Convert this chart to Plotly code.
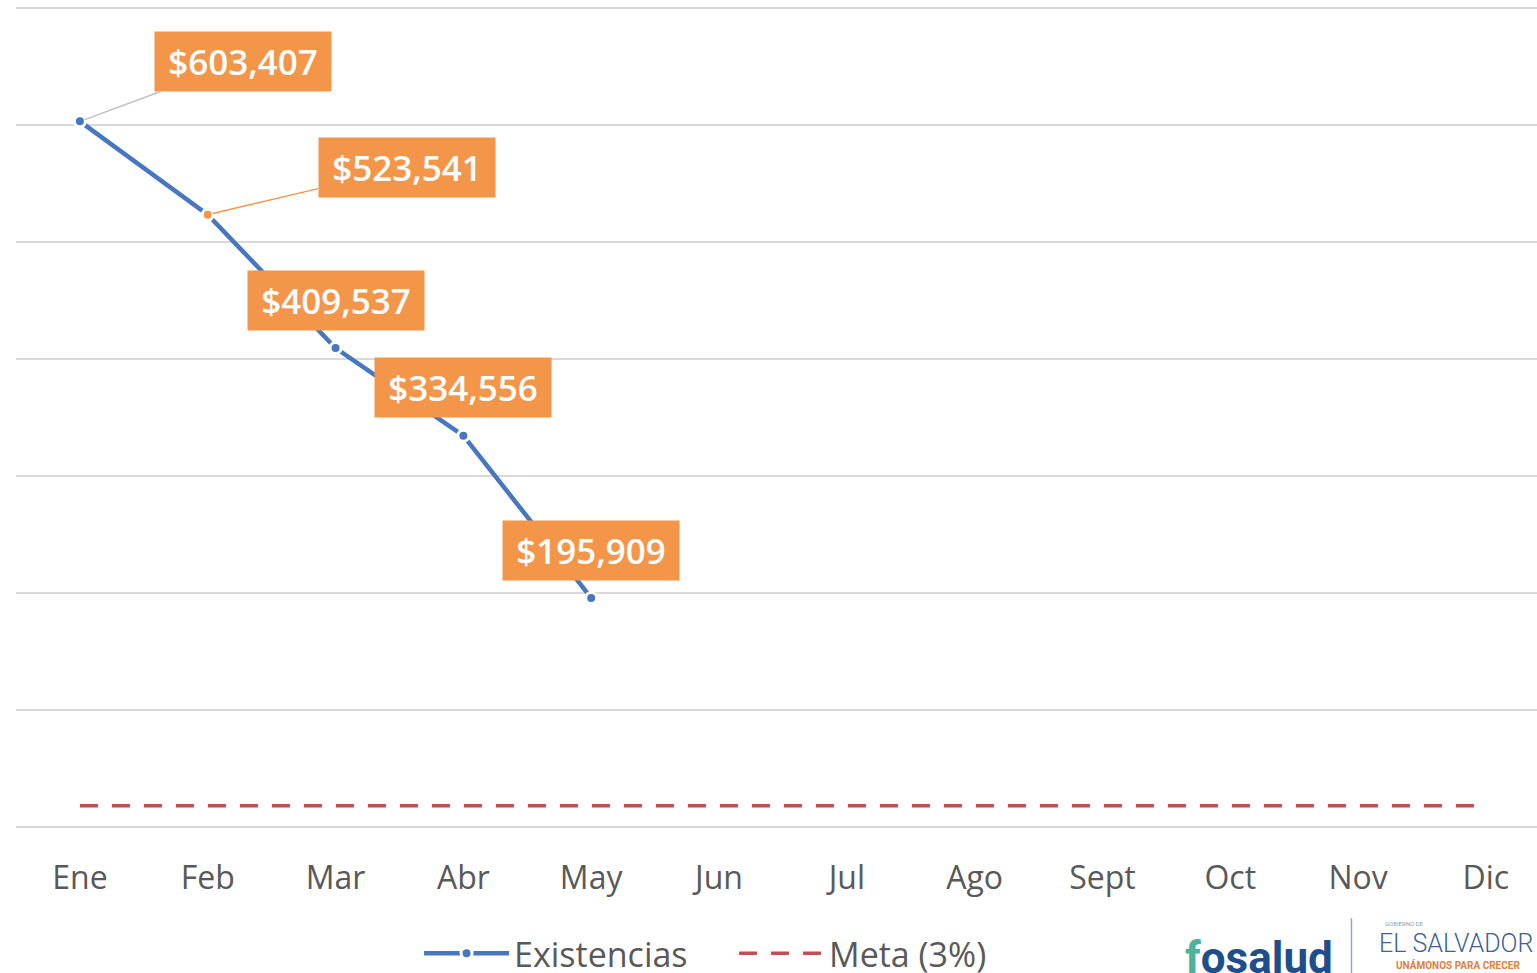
import plotly.graph_objects as go

# data
meses = ["Ene", "Feb", "Mar", "Abr", "May", "Jun", "Jul", "Ago", "Sept", "Oct", "Nov", "Dic"]
existencias = [603407, 523541, 409537, 334556, 195909]
meta = [18102] * 12
etiquetas = ["$603,407", "$523,541", "$409,537", "$334,556", "$195,909"]

azul = "#4677C0"
naranja = "#F4964A"
rojo = "#C0504D"
gris = "#595959"

marker_colors = [azul, naranja, azul, azul, azul]

fig = go.Figure()

fig.add_trace(go.Scatter(
    x=meses[:len(existencias)],
    y=existencias,
    mode="lines+markers",
    name="Existencias",
    line=dict(color=azul, width=4.5),
    marker=dict(color=marker_colors, size=11, line=dict(color="white", width=3)),
))

fig.add_trace(go.Scatter(
    x=meses,
    y=meta,
    mode="lines",
    name="Meta (3%)",
    line=dict(color=rojo, width=3.5, dash="18px,14px"),
))

# data labels (offsets in px)
offsets = [(163, -60, True, "#BFBFBF"), (199, -47, True, naranja),
           (0, -48, False, None), (0, -48, False, None), (0, -47, False, None)]
for m, v, t, (ax, ay, arrow, acol) in zip(meses, existencias, etiquetas, offsets):
    ann = dict(
        x=m, y=v, xref="x", yref="y", text=t,
        font=dict(family="Open Sans, sans-serif", size=35, color="white", weight=600),
        bgcolor=naranja, width=164, height=47, borderpad=6,
        showarrow=True, ax=ax, ay=ay,
    )
    if arrow:
        ann.update(arrowhead=0, arrowwidth=1.5, arrowcolor=acol, standoff=5)
    else:
        ann.update(arrowwidth=0.1, arrowcolor="rgba(0,0,0,0)")
    fig.add_annotation(**ann)

# logos (text approximation)
fig.add_annotation(xref="paper", yref="paper", x=0.817, y=-0.160, xanchor="center", yanchor="middle",
                   text="<b><span style='color:#4DB39A'>f</span>osalud</b>", showarrow=False,
                   font=dict(family="Roboto, sans-serif", size=44, color="#1F4E8C"))
fig.add_annotation(xref="paper", yref="paper", x=0.9126, y=-0.117, xanchor="center", yanchor="middle",
                   text="GOBIERNO DE", showarrow=False,
                   font=dict(family="Roboto, sans-serif", size=6, color="#8C9FB5"))
fig.add_annotation(xref="paper", yref="paper", x=0.947, y=-0.142, xanchor="center", yanchor="middle",
                   text="EL SALVADOR", showarrow=False,
                   font=dict(family="Roboto, sans-serif", size=25, color="#3C6296", weight=300))
fig.add_annotation(xref="paper", yref="paper", x=0.948, y=-0.168, xanchor="center", yanchor="middle",
                   text="<b>UNÁMONOS PARA CRECER</b>", showarrow=False,
                   font=dict(family="Roboto, sans-serif", size=10, color="#E0803C"))
fig.add_shape(type="line", xref="paper", yref="paper", x0=0.878, x1=0.878, y0=-0.111, y1=-0.19,
              line=dict(color="#9AA8B8", width=1.5))

fig.update_layout(
    width=1537, height=973,
    margin=dict(l=16, r=0, t=6, b=146, autoexpand=False),
    paper_bgcolor="white", plot_bgcolor="white",
    showlegend=True,
    legend=dict(orientation="h", x=0.265, xanchor="left", y=-0.119, yanchor="top",
                font=dict(family="Open Sans, sans-serif", size=34, color=gris),
                itemwidth=85, entrywidth=215, tracegroupgap=0),
    xaxis=dict(
        type="category", categoryarray=meses, range=[-0.5, 11.4],
        showgrid=False, showline=False, zeroline=False,
        ticks="outside", ticklen=23, tickcolor="rgba(0,0,0,0)",
        tickfont=dict(family="Open Sans, sans-serif", size=32, color=gris),
    ),
    yaxis=dict(
        range=[0, 702000], dtick=100000,
        showgrid=True, gridcolor="#D9D9D9", gridwidth=1.5,
        zeroline=True, zerolinecolor="#D9D9D9", zerolinewidth=1.5,
        showticklabels=False, showline=False,
    ),
)

fig.write_html("out.html", config={"displayModeBar": False},
               post_script="document.body.style.margin='0';")
